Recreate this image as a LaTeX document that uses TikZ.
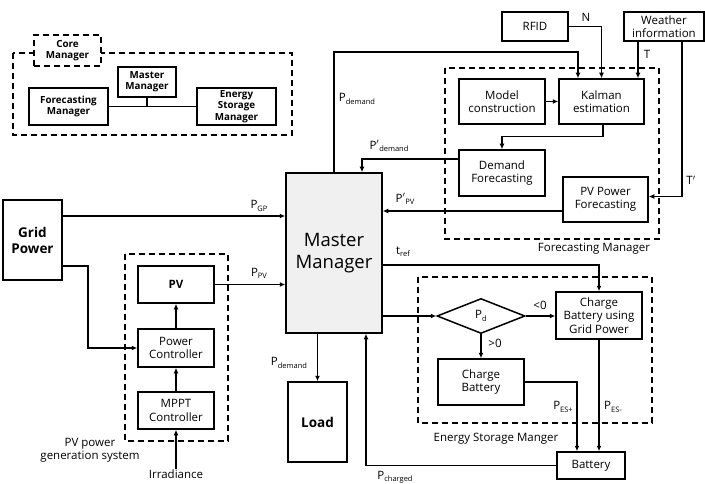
\documentclass[tikz,border=0pt]{standalone}
\usepackage{fontspec}
\setmainfont{Open Sans}
\usetikzlibrary{shapes.geometric,arrows.meta}
\definecolor{mfill}{HTML}{F0F0F0}
\newcommand{\lo}[1]{\raisebox{-0.35ex}{\fontsize{7.5}{7.5}\selectfont #1}}
\begin{document}
\begin{tikzpicture}[x=1pt,y=-1pt,
 lw/.style={line width=1.5pt},
 sz/.style 2 args={minimum width=#1pt,minimum height=#2pt},
 box/.style={draw,lw,align=center,inner sep=1pt,font=\fontsize{11.5}{13.5}\selectfont},
 bbox/.style={box,font=\fontsize{13.5}{16}\selectfont\bfseries},
 sbox/.style={box,font=\fontsize{9.8}{11.2}\selectfont\bfseries},
 dbox/.style={draw,lw,dash pattern=on 6pt off 4pt},
 arr/.style={lw,-{Latex[length=5.5pt,width=5pt]}},
 ln/.style={lw},
 lab/.style={font=\fontsize{11.5}{13}\selectfont,inner sep=0pt,align=center}]
\useasboundingbox (0,0) rectangle (705,484);

% ---------- Core manager legend ----------
\draw[dbox] (13,53) rectangle (292,135);
\node[sbox,dbox,fill=white,sz={67}{31}] (coretab) at (67.5,50.5) {Core\\Manager};
\node[sbox,sz={58}{30}] (mms) at (147,82) {Master\\Manager};
\node[sbox,sz={79}{37}] (fms) at (68.5,106.5) {Forecasting\\Manager};
\node[sbox,sz={79}{37}] (esms) at (236.5,106.5) {Energy\\Storage\\Manager};
\draw[ln] (fms.east) -- (esms.west);
\draw[ln] (mms.south) -- (mms.south |- fms.east);

% ---------- dashed groups ----------
\draw[dbox] (125,254) rectangle (228,441);
\draw[dbox] (418,277) rectangle (652,423);
\draw[dbox] (445,68) rectangle (659,239);

% ---------- main nodes ----------
\node[bbox,sz={59}{80}] (grid) at (32.5,240) {Grid\\Power};
\node[box,fill=mfill,sz={96}{160},font=\fontsize{18.5}{22}\selectfont] (master) at (334,253) {Master\\Manager};
\node[box,sz={76}{37},font=\fontsize{11.5}{13.5}\selectfont\bfseries] (pv) at (176,284.5) {PV};
\node[box,sz={76}{38}] (pc) at (176,348) {Power\\Controller};
\node[box,sz={76}{37}] (mppt) at (176,410.5) {MPPT\\Controller};
\node[lab] (irr) at (176,474) {Irradiance};
\node[lab] (pvgen) at (90,450) {PV power\\generation system};
\node[bbox,sz={59}{80}] (load) at (317.5,422) {Load};

\node[box,shape=diamond,sz={88}{35},inner sep=0pt] (pd) at (481,316) {P\lo{d}};
\node[box,sz={86}{47}] (cbg) at (599,315.5) {Charge\\Battery using\\Grid Power};
\node[box,sz={86}{46}] (cb) at (481,382) {Charge\\Battery};
\node[box,sz={68}{27}] (bat) at (591,465.5) {Battery};
\node[lab] (esmlab) at (496,439) {Energy Storage Manger};

\node[box,sz={86}{45}] (model) at (502,101.5) {Model\\construction};
\node[box,sz={85}{45}] (kal) at (601.5,101.5) {Kalman\\estimation};
\node[box,sz={86}{46}] (dem) at (502,173) {Demand\\Forecasting};
\node[box,sz={85}{45}] (pvf) at (605.5,199.5) {PV Power\\Forecasting};
\node[box,sz={66}{29}] (rfid) at (535,26.5) {RFID};
\node[box,sz={80}{29}] (wea) at (664,26.5) {Weather\\information};
\node[lab] (fmlab) at (594,249) {Forecasting Manager};

% ---------- connectors ----------
\draw[arr] (grid.east |- 0,216) -- (master.west |- 0,216);
\draw[arr] (grid.east |- 0,266) -- (88,266) |- (pc.west);
\draw[arr] (pv.east) -- (master.west |- pv.east);
\draw[arr] (pc.north) -- (pv.south);
\draw[arr] (mppt.north) -- (pc.south);
\draw[arr] (irr.north) -- (mppt.south);
\draw[arr] (load.north |- master.south) -- (load.north);
\draw[arr] (bat.west) -| ([xshift=32pt]master.south);
\draw[arr] (master.east |- pd.west) -- (pd.west);
\draw[arr] (master.east |- 0,265) -| (cbg.north);
\draw[arr] (pd.east) -- (cbg.west |- pd.east);
\draw[arr] (pd.south) -- (cb.north);
\draw[arr] (cb.east) -| ([xshift=-14pt]bat.north);
\draw[arr] (cbg.south) -- (cbg.south |- bat.north);

\draw[arr] (master.north) -- (master.north |- 0,52) -| ([xshift=-23.5pt]kal.north);
\draw[arr] (rfid.east) -| (kal.north);
\draw[arr] ([xshift=-26pt]wea.south) -- ([xshift=-26pt]wea.south |- kal.north);
\draw[arr] ([xshift=18pt]wea.south) |- ([yshift=3pt]pvf.east);
\draw[arr] (model.east) -- (kal.west);
\draw[arr] ([xshift=1.5pt]kal.south) -- ++(0,12) -| (dem.north);
\draw[arr] ([yshift=14pt]dem.west) -| ([xshift=28pt]master.north);
\draw[arr] ([yshift=-11.5pt]pvf.west) -- (master.east |- 0,211);

% ---------- labels ----------
\node[lab] (lgp) at (259,206) {P\lo{GP}};
\node[lab] (lpv) at (259,273) {P\lo{PV}};
\node[lab] (ldem1) at (357,99) {P\lo{demand}};
\node[lab] (ldem2) at (389,146) {P$'$\lo{demand}};
\node[lab] (lppv) at (405,199) {P$'$\lo{PV}};
\node[lab] (ltref) at (403,252) {t\lo{ref}};
\node[lab] (ldem3) at (289,363) {P\lo{demand}};
\node[lab] (llt) at (540,305) {<0};
\node[lab] (lgt) at (495,343) {>0};
\node[lab] (lesp) at (563,407) {P\lo{ES+}};
\node[lab] (lesm) at (613,407) {P\lo{ES-}};
\node[lab] (lchg) at (395,477) {P\lo{charged}};
\node[lab] (ln) at (586,17) {N};
\node[lab] (lt) at (647,54) {T};
\node[lab] (ltp) at (691,180) {T$'$};
\end{tikzpicture}
\end{document}
